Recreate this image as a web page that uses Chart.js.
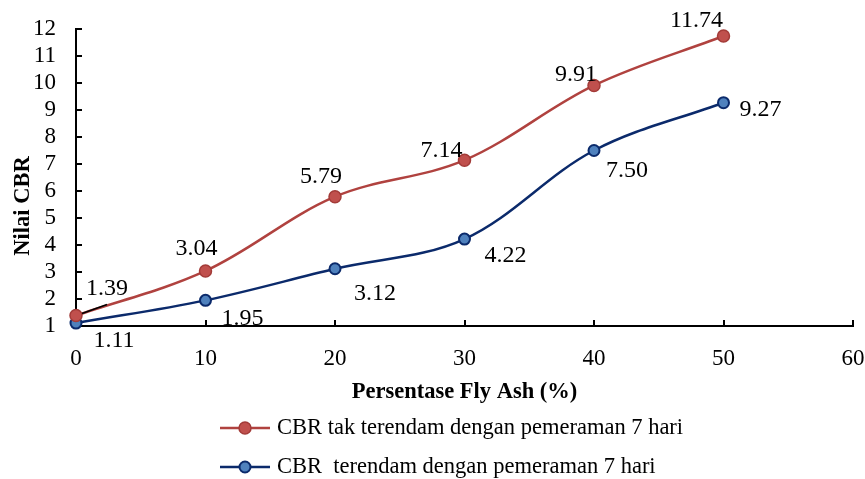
<!DOCTYPE html>
<html>
<head>
<meta charset="utf-8">
<script src="https://cdn.jsdelivr.net/npm/chart.js@4.4.1/dist/chart.umd.min.js"></script>
<style>
  html, body { margin: 0; padding: 0; background: #fff; }
  #wrap { width: 865px; height: 479px; }
</style>
</head>
<body>
<div id="wrap"><canvas id="cbrChart"></canvas></div>
<script>
// data
const flyAsh = [0, 10, 20, 30, 40, 50];
const cbrUnsoaked = [1.39, 3.04, 5.79, 7.14, 9.91, 11.74];
const cbrSoaked = [1.11, 1.95, 3.12, 4.22, 7.50, 9.27];
const xTicks = [0, 10, 20, 30, 40, 50, 60];
const yTicks = [1, 2, 3, 4, 5, 6, 7, 8, 9, 10, 11, 12];
const seriesNames = ['CBR tak terendam dengan pemeraman 7 hari', 'CBR  terendam dengan pemeraman 7 hari'];
const xTitle = 'Persentase Fly Ash (%)';
const yTitle = 'Nilai CBR';

const serif = "'Liberation Serif', 'Times New Roman', serif";

// where each value label sits, relative to its point (dx, dy)
const labelOffsets = [
  [[31, -27], [-9, -22], [-14, -20], [-23, -10], [-18, -11], [-27, -15]],
  [[38, 18], [37, 18], [40, 25], [41, 17], [33, 20], [37, 7]]
];

const redLine = '#B0423F', redFill = '#C0504D', redEdge = '#A33B38';
const blueLine = '#0B2A6B', blueFill = '#4F81BD', blueEdge = '#0B2A6B';

function pts(ys) {
  return flyAsh.map((x, i) => ({ x: x, y: ys[i] }));
}

// inner tick marks, value labels, y title and legend
const extras = {
  id: 'extras',
  afterDraw(chart) {
    const ctx = chart.ctx;
    const xs = chart.scales.x, ys = chart.scales.y;
    const area = chart.chartArea;
    ctx.save();
    ctx.strokeStyle = '#000';
    ctx.lineWidth = 2;
    ctx.beginPath();
    xTicks.forEach(v => {
      if (v === 0) return;
      const px = Math.round(xs.getPixelForValue(v));
      ctx.moveTo(px, area.bottom);
      ctx.lineTo(px, area.bottom - 6);
    });
    yTicks.forEach(v => {
      if (v === 1) return;
      const py = Math.round(ys.getPixelForValue(v));
      ctx.moveTo(area.left, py);
      ctx.lineTo(area.left + 6, py);
    });
    ctx.stroke();

    // value labels
    ctx.fillStyle = '#000';
    ctx.font = '24px ' + serif;
    ctx.textAlign = 'center';
    ctx.textBaseline = 'middle';
    chart.data.datasets.forEach((ds, di) => {
      const meta = chart.getDatasetMeta(di);
      meta.data.forEach((p, i) => {
        const off = labelOffsets[di][i];
        ctx.fillText(ds.data[i].y.toFixed(2), p.x + off[0], p.y + off[1]);
      });
    });

    // leader line for the first label
    const p0 = chart.getDatasetMeta(0).data[0];
    ctx.lineWidth = 1.5;
    ctx.beginPath();
    ctx.moveTo(p0.x + 6, p0.y - 2);
    ctx.lineTo(p0.x + 31, p0.y - 11);
    ctx.stroke();

    // y axis title
    ctx.save();
    ctx.translate(23, 206);
    ctx.rotate(-Math.PI / 2);
    ctx.font = 'bold 22.5px ' + serif;
    ctx.fillText(yTitle, 0, 0);
    ctx.restore();

    // legend
    ctx.font = '22.5px ' + serif;
    ctx.textAlign = 'left';
    const rows = [428, 467];
    chart.data.datasets.forEach((ds, di) => {
      const y = rows[di];
      ctx.strokeStyle = ds.borderColor;
      ctx.lineWidth = 2.5;
      ctx.beginPath();
      ctx.moveTo(220, y);
      ctx.lineTo(270, y);
      ctx.stroke();
      ctx.beginPath();
      ctx.arc(245, y, ds.pointRadius, 0, Math.PI * 2);
      ctx.fillStyle = ds.pointBackgroundColor;
      ctx.fill();
      ctx.lineWidth = ds.pointBorderWidth;
      ctx.strokeStyle = ds.pointBorderColor;
      ctx.stroke();
      ctx.fillStyle = '#000';
      ctx.fillText(ds.label, 277, y);
    });
    ctx.restore();
  }
};

new Chart(document.getElementById('cbrChart'), {
  type: 'line',
  data: {
    datasets: [{
      label: seriesNames[0],
      data: pts(cbrUnsoaked),
      borderColor: redLine,
      borderWidth: 2.5,
      pointBackgroundColor: redFill,
      pointBorderColor: redEdge,
      pointBorderWidth: 1.5,
      pointRadius: 6,
      tension: 0.35,
      clip: false
    }, {
      label: seriesNames[1],
      data: pts(cbrSoaked),
      borderColor: blueLine,
      borderWidth: 2.5,
      pointBackgroundColor: blueFill,
      pointBorderColor: blueEdge,
      pointBorderWidth: 2,
      pointRadius: 5.5,
      tension: 0.35,
      clip: false
    }]
  },
  options: {
    responsive: true,
    maintainAspectRatio: false,
    animation: false,
    layout: { padding: { top: 29, right: 12, bottom: 73, left: 0 } },
    plugins: {
      legend: { display: false },
      tooltip: { enabled: false }
    },
    scales: {
      x: {
        type: 'linear',
        min: 0,
        max: 60,
        afterFit(scale) {
          scale.height = 80;
          scale.paddingLeft = 0;
          scale.paddingRight = 0;
        },
        afterBuildTicks(scale) { scale.ticks = xTicks.map(v => ({ value: v })); },
        grid: { display: false, drawTicks: false },
        border: { display: true, color: '#000', width: 2 },
        ticks: { color: '#000', padding: 19, maxRotation: 0, autoSkip: false, font: { family: serif, size: 23 } },
        title: {
          display: true,
          text: xTitle,
          color: '#000',
          padding: { top: 0, bottom: 0 },
          font: { family: serif, size: 22.5, weight: 'bold' }
        }
      },
      y: {
        type: 'linear',
        min: 1,
        max: 12,
        afterFit(scale) {
          scale.width = 76;
          scale.paddingTop = 0;
          scale.paddingBottom = 0;
        },
        afterBuildTicks(scale) { scale.ticks = yTicks.map(v => ({ value: v })); },
        grid: { display: false, drawTicks: false },
        border: { display: true, color: '#000', width: 2 },
        ticks: { color: '#000', padding: 20, autoSkip: false, font: { family: serif, size: 23 } }
      }
    }
  },
  plugins: [extras]
});
</script>
</body>
</html>
